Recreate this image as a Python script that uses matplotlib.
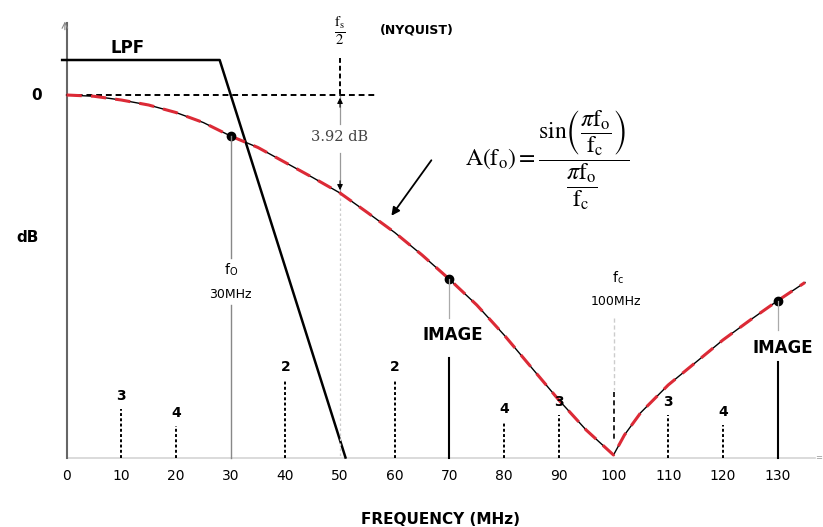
import matplotlib
matplotlib.use("Agg")
from matplotlib import pyplot as plt

# sin(x)/x roll-off of the DAC output, in dB, read at these frequencies (MHz)
freq = [0, 5, 10, 15, 20, 25, 30, 35, 40, 45, 50, 55, 60, 65, 70, 75, 80, 85, 90, 95, 100,
        102, 105, 110, 115, 120, 125, 130, 135]
resp_db = [0, -0.05, -0.2, -0.4, -0.7, -1.1, -1.64, -2.1, -2.7, -3.3, -3.92, -4.7, -5.5,
           -6.4, -7.37, -8.4, -9.6, -10.9, -12.2, -13.4, -14.4,
           -13.6, -12.7, -11.6, -10.7, -9.8, -9.0, -8.23, -7.5]

# low-pass filter outline
lpf_f = [-0.8, 28, 51]
lpf_db = [1.4, 1.4, -14.5]

# harmonic images: frequency, order, level
harm_f = [10, 20, 40, 60, 80, 90, 110, 120]
harm_n = ["3", "4", "2", "2", "4", "3", "3", "4"]
harm_db = [-12.56, -13.24, -11.4, -11.4, -13.08, -12.8, -12.8, -13.2]

# marked points: fundamental and images
mark_f = [30, 70, 130]
mark_db = [-1.64, -7.37, -8.23]

x_ticks = [0, 10, 20, 30, 40, 50, 60, 70, 80, 90, 100, 110, 120, 130]
f_nyq = 50
nyq_drop = -3.92
floor_db = -14.52

plt.rcParams["mathtext.fontset"] = "stix"

fig = plt.figure(figsize=(8.23, 5.27), dpi=100)
ax = fig.add_axes([0, 0, 1, 1])
ax.set_xlim(-12.16, 138.3)
ax.set_ylim(-17.28, 3.8)
ax.axis("off")

sans = "DejaVu Sans"

# axes
ax.plot([0, 136.8], [floor_db, floor_db], color="#d4d4d4", lw=1.2)
ax.plot([0, 0], [floor_db, 2.9], color="#666666", lw=1.5)
ax.annotate("", xy=(-0.3, 3.05), xytext=(-0.3, 2.5),
            arrowprops=dict(arrowstyle="->", color="#888888", lw=0.8))
ax.text(137.5, floor_db, "=", fontsize=6, color="#999999", ha="center", va="center")

# 0 dB reference
ax.plot([0, 56.7], [0, 0], color="black", lw=1.4, dashes=(3, 2))
ax.text(-5.4, 0, "0", fontsize=11, fontweight="bold", family=sans, ha="center", va="center")
ax.text(-7.2, -5.72, "dB", fontsize=11, fontweight="bold", family=sans, ha="center", va="center")

# LPF
ax.plot(lpf_f, lpf_db, color="black", lw=1.8)
ax.text(11.1, 1.88, "LPF", fontsize=12, fontweight="bold", family=sans, ha="center", va="center")

# harmonics
for f, n, lvl in zip(harm_f, harm_n, harm_db):
    ax.plot([f, f], [floor_db, lvl], color="black", lw=1.4, dashes=(1.5, 1.2))
    ax.annotate(n, (f, lvl), xytext=(0, 9), textcoords="offset points",
                fontsize=10, fontweight="bold", family=sans, ha="center", va="center")

# Nyquist marker and 3.92 dB drop
ax.plot([f_nyq, f_nyq], [1.48, 0], color="black", lw=1.4, dashes=(2.5, 1.5))
ax.plot([f_nyq, f_nyq], [-0.05, -1.15], color="#999999", lw=0.9)
ax.plot([f_nyq, f_nyq], [-2.3, nyq_drop], color="#999999", lw=0.9)
ax.plot([f_nyq, f_nyq], [nyq_drop, floor_db], color="#cccccc", lw=0.9, dashes=(2, 2))
ax.annotate("", xy=(f_nyq, 0), xytext=(f_nyq, -0.6),
            arrowprops=dict(arrowstyle="-|>", color="black", lw=0.8, mutation_scale=8))
ax.annotate("", xy=(f_nyq, nyq_drop), xytext=(f_nyq, nyq_drop + 0.6),
            arrowprops=dict(arrowstyle="-|>", color="black", lw=0.8, mutation_scale=8))
ax.text(f_nyq, -1.68, "3.92 dB", fontsize=10.5, family="DejaVu Serif", color="#444444",
        ha="center", va="center")
ax.text(f_nyq, 2.56, r"$\frac{\mathrm{f_s}}{2}$", fontsize=15, ha="center", va="center")
ax.text(64.1, 2.6, "(NYQUIST)", fontsize=9, fontweight="bold", family=sans,
        ha="center", va="center")

# response curve
ax.plot(freq, resp_db, color="black", lw=1.0)
ax.plot(freq, resp_db, color="#dc2a36", lw=2.2, dashes=(5, 3))
ax.plot(mark_f, mark_db, "o", color="black", ms=6)

# fundamental
ax.plot([30, 30], [mark_db[0], -6.5], color="#888888", lw=1.0)
ax.plot([30, 30], [-8.4, floor_db], color="#888888", lw=1.0)
ax.text(30, -7.0, r"f$_\mathregular{O}$", fontsize=10, family=sans, ha="center", va="center")
ax.text(30, -7.96, "30MHz", fontsize=9, family=sans, ha="center", va="center")

# images
ax.plot([70, 70], [mark_db[1], -8.9], color="#aaaaaa", lw=0.9)
ax.plot([70, 70], [-10.52, floor_db], color="black", lw=1.5)
ax.text(70.6, -9.6, "IMAGE", fontsize=12, fontweight="bold", family=sans, ha="center", va="center")
ax.plot([130, 130], [mark_db[2], -9.4], color="#aaaaaa", lw=0.9)
ax.plot([130, 130], [-10.68, floor_db], color="black", lw=1.5)
ax.text(131, -10.12, "IMAGE", fontsize=12, fontweight="bold", family=sans, ha="center", va="center")

# clock frequency
ax.plot([100, 100], [-8.92, -11.8], color="#cccccc", lw=1.0, dashes=(3, 2))
ax.plot([100, 100], [-11.88, -13.8], color="black", lw=1.2, dashes=(3, 2))
ax.text(100.8, -7.32, r"f$_\mathregular{c}$", fontsize=10, family=sans, ha="center", va="center")
ax.text(100.5, -8.28, "100MHz", fontsize=9, family=sans, ha="center", va="center")

# formula and pointer
ax.annotate("", xy=(59.1, -4.92), xytext=(67.0, -2.52),
            arrowprops=dict(arrowstyle="-|>", color="black", lw=1.3, mutation_scale=12))
ax.text(72.9, -2.6,
        r"$\mathrm{A(f_o)} = \dfrac{\mathrm{sin}\left(\dfrac{\pi \mathrm{f_o}}{\mathrm{f_c}}\right)}"
        r"{\dfrac{\pi \mathrm{f_o}}{\mathrm{f_c}}}$",
        fontsize=17, ha="left", va="center")

# x tick labels and title
for t in x_ticks:
    ax.text(t, -15.24, str(t), fontsize=10, family=sans, ha="center", va="center")
ax.text(68.4, -16.96, "FREQUENCY (MHz)", fontsize=11, fontweight="bold", family=sans,
        ha="center", va="center")

plt.savefig("out.png", dpi=100)
